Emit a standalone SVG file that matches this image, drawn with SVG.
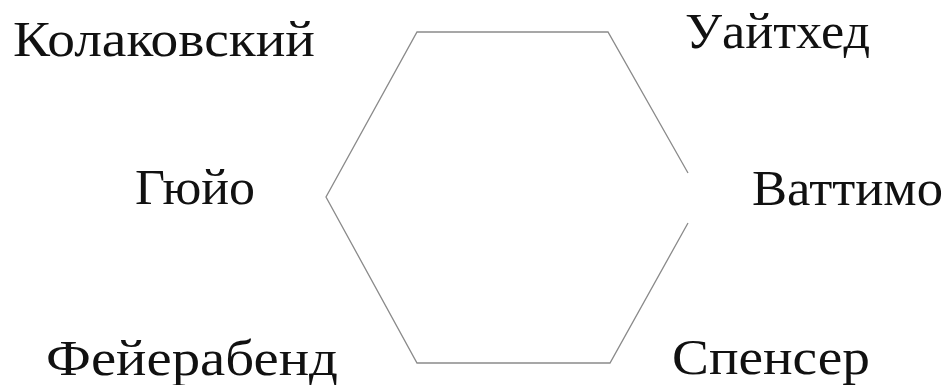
<svg xmlns="http://www.w3.org/2000/svg" width="951" height="385" viewBox="0 0 951 385">
<style>
.lbl{font-family:"Liberation Serif","DejaVu Serif",serif;font-size:50px;fill:#111;}
.hex{fill:none;stroke:#8a8a8a;stroke-width:1.3;stroke-linejoin:miter;}
</style>
<rect width="951" height="385" fill="#fff"/>
<g id="connectors">
<polyline class="hex" points="688,173 608,32 417,32 326,197 417,363 610,363 688,223"/>
</g>
<g id="kolakovsky"><text class="lbl" x="13" y="56" textLength="302" lengthAdjust="spacingAndGlyphs">Колаковский</text></g>
<g id="whitehead"><text class="lbl" x="685" y="48" textLength="185" lengthAdjust="spacingAndGlyphs">Уайтхед</text></g>
<g id="guyau"><text class="lbl" x="135" y="204" textLength="120" lengthAdjust="spacingAndGlyphs">Гюйо</text></g>
<g id="vattimo"><text class="lbl" x="752" y="205" textLength="191" lengthAdjust="spacingAndGlyphs">Ваттимо</text></g>
<g id="feyerabend"><text class="lbl" x="46" y="375" textLength="292" lengthAdjust="spacingAndGlyphs">Фейерабенд</text></g>
<g id="spencer"><text class="lbl" x="672" y="374" textLength="198" lengthAdjust="spacingAndGlyphs">Спенсер</text></g>
</svg>
